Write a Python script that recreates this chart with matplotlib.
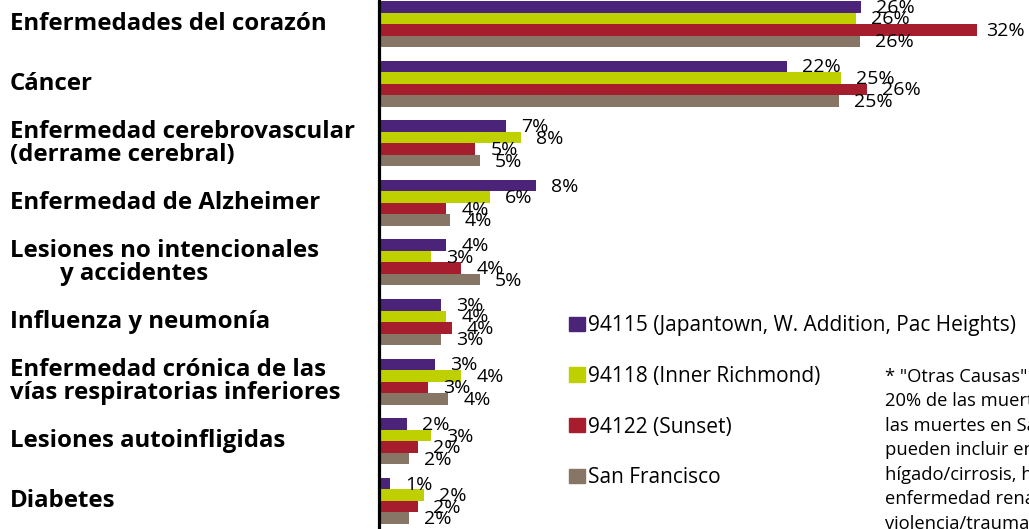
import matplotlib
matplotlib.use('Agg')
import numpy as np
import matplotlib.pyplot as plt
import matplotlib.patches as mpatches
from matplotlib.transforms import blended_transform_factory

# causas de muerte, de arriba hacia abajo
causes = [
    'Enfermedades del corazón',
    'Cáncer',
    'Enfermedad cerebrovascular\n(derrame cerebral)',
    'Enfermedad de Alzheimer',
    'Lesiones no intencionales\n        y accidentes',
    'Influenza y neumonía',
    'Enfermedad crónica de las\nvías respiratorias inferiores',
    'Lesiones autoinfligidas',
    'Diabetes',
]
zip_94115 = [25.8, 21.8, 6.8, 8.4, 3.6, 3.3, 3.0, 1.52, 0.6]
zip_94118 = [25.5, 24.7, 7.6, 5.95, 2.8, 3.6, 4.4, 2.8, 2.4]
zip_94122 = [32.0, 26.1, 5.15, 3.6, 4.4, 3.9, 2.6, 2.1, 2.1]
san_francisco = [25.7, 24.6, 5.4, 3.8, 5.4, 3.3, 3.7, 1.6, 1.6]

series_names = ['94115 (Japantown, W. Addition, Pac Heights)',
                '94118 (Inner Richmond)',
                '94122 (Sunset)',
                'San Francisco']
COLORS = ['#4b2479', '#bed000', '#a61e2d', '#877566']

note_lines = [
    '* "Otras Causas" representan el',
    '20% de las muertes en estos distritos y',
    'las muertes en San Francisco. Estas',
    'pueden incluir enfermedades del',
    'hígado/cirrosis, hipertensión,',
    'enfermedad renal, VIH/SIDA,',
    'violencia/trauma, etc.',
]

W, H = 1029, 529
fig = plt.figure(figsize=(W / 100, H / 100), dpi=100, facecolor='white')
ax = fig.add_axes([379 / W, 0, 1 - 379 / W, 1])

y = np.arange(len(causes))
h = 0.193
all_series = [zip_94115, zip_94118, zip_94122, san_francisco]
xmax = (W - 379) / 18.7

for k, (vals, col, name) in enumerate(zip(all_series, COLORS, series_names)):
    pos = y + (k - 1.5) * h
    ax.barh(pos, vals, height=h, color=col, label=name, edgecolor='none')
    for yy, v in zip(pos, vals):
        off = 9 if v > xmax * 0.9 else 15
        ax.annotate(f'{v:.0f}%', (v, yy), xytext=(off, -1),
                    textcoords='offset pixels', ha='left', va='center',
                    fontsize=14, family='Open Sans', color='black')

ax.set_xlim(0, xmax)
ax.set_ylim(8.472, -0.404)
ax.set_xticks([])
ax.set_yticks([])
for side in ['top', 'right', 'bottom']:
    ax.spines[side].set_visible(False)
ax.spines['left'].set_linewidth(2.3)
ax.spines['left'].set_color('black')

# etiquetas de categorias a la izquierda
trans = blended_transform_factory(fig.transFigure, ax.transData)
for yy, lab in zip(y, causes):
    ax.text(10 / W, yy, lab, transform=trans, ha='left', va='center',
            fontsize=17.3, fontweight='bold', family='Open Sans',
            linespacing=0.95, clip_on=False)

handles = [mpatches.Patch(color=c, label=n) for c, n in zip(COLORS, series_names)]
fig.legend(handles=handles, loc='upper left', bbox_to_anchor=(569 / W, 1 - 315 / H),
           frameon=False, prop={'family': 'Open Sans', 'size': 15},
           handlelength=0.77, handleheight=0.67, handletextpad=0.15,
           labelspacing=1.43, borderaxespad=0, borderpad=0)

fig.text(885 / W, 1 - 368 / H, '\n'.join(note_lines), ha='left', va='top',
         fontsize=13.2, family='Open Sans', linespacing=1.46)

fig.savefig('out.png', dpi=100, facecolor=fig.get_facecolor())
